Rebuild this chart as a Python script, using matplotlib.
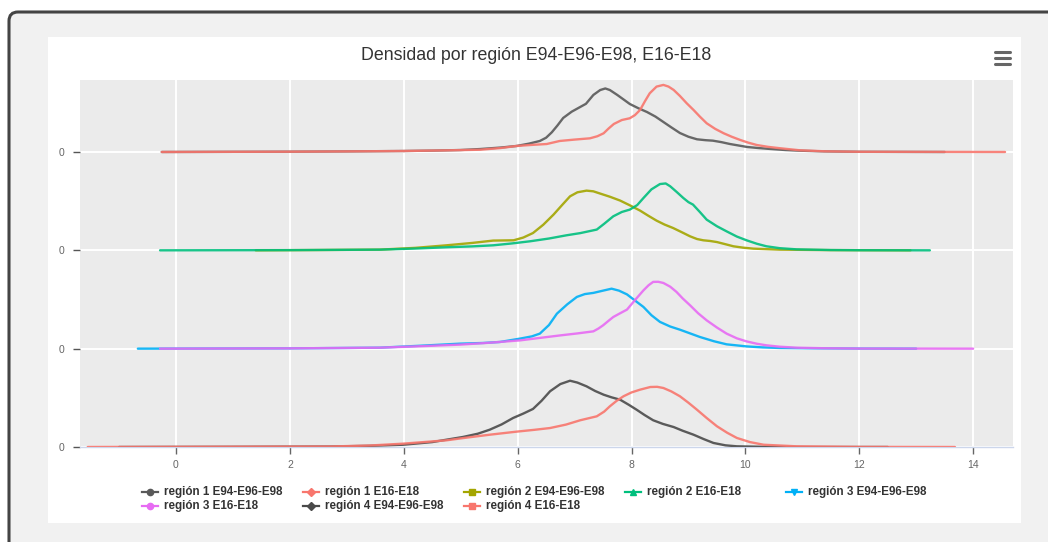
import matplotlib
matplotlib.use("Agg")
import matplotlib.pyplot as plt
from matplotlib.lines import Line2D
from matplotlib.patches import FancyBboxPatch, Rectangle
from matplotlib.transforms import IdentityTransform

plt.rcParams['font.family'] = ['Liberation Sans', 'DejaVu Sans']

title = "Densidad por región E94-E96-E98, E16-E18"

# density curves (x = value, d = density)
r1a_x = [-0.25, 2, 3, 4, 4.5, 5, 5.34, 5.7, 5.98, 6.2, 6.39, 6.5, 6.6, 6.7, 6.8, 6.95, 7.1, 7.2, 7.33, 7.45, 7.54, 7.62,
         7.75, 7.87, 7.97, 8.12, 8.27, 8.42, 8.56, 8.7, 8.85, 9.0, 9.15, 9.3, 9.43, 9.58, 9.73, 9.88, 10.03, 10.23, 10.43,
         10.7, 10.96, 11.4, 12, 13.5]
r1a_d = [0, .003, .006, .01, .014, .02, .03, .045, .061, .085, .112, .145, .2, .27, .346, .41, .458, .49, .58, .63, .646, .63,
         .58, .53, .488, .445, .407, .36, .305, .25, .193, .155, .129, .12, .115, .1, .081, .066, .051, .04, .031,
         .02, .013, .006, .002, 0]
r1b_x = [-0.25, 2, 3, 4, 4.7, 5.34, 5.7, 5.98, 6.25, 6.51, 6.74, 7.0, 7.27, 7.4, 7.51, 7.6, 7.69, 7.83, 7.97, 8.06, 8.15,
         8.24, 8.32, 8.44, 8.56, 8.65, 8.74, 8.85, 8.97, 9.09, 9.2, 9.32, 9.47, 9.62, 9.76, 9.91, 10.05, 10.2, 10.4, 10.61,
         10.96, 11.4, 12, 14.56]
r1b_d = [0, .003, .006, .01, .016, .023, .04, .061, .072, .081, .112, .126, .139, .16, .19, .24, .285, .325, .343, .375, .427,
         .52, .597, .665, .682, .665, .631, .57, .495, .427, .36, .292, .235, .19, .155, .122, .095, .071, .052, .038,
         .017, .007, .002, 0]

r2a_x = [1.4, 2.5, 3.58, 4.2, 4.75, 5.2, 5.57, 5.93, 6.1, 6.27, 6.45, 6.63, 6.78, 6.92, 7.05, 7.21, 7.33, 7.45, 7.62, 7.80,
         7.98, 8.15, 8.3, 8.44, 8.58, 8.73, 8.88, 9.03, 9.15, 9.26, 9.38, 9.50, 9.65, 9.79, 9.96, 10.14, 10.6, 11.5, 12.9]
r2a_d = [0, .003, .007, .025, .051, .075, .099, .102, .13, .176, .26, .363, .46, .549, .59, .607, .6, .577, .545, .506,
         .455, .404, .35, .302, .262, .227, .185, .142, .115, .102, .095, .084, .062, .041, .027, .017, .007, .002, 0]
r2b_x = [-0.28, 2, 3.58, 4.2, 4.75, 5.2, 5.57, 5.9, 6.22, 6.55, 6.86, 7.1, 7.39, 7.52, 7.68, 7.83, 7.97, 8.1, 8.21, 8.35,
         8.50, 8.6, 8.68, 8.8, 8.91, 9.0, 9.08, 9.2, 9.32, 9.5, 9.67, 9.85, 10.02, 10.2, 10.37, 10.6, 10.9, 11.5, 12, 13.24]
r2b_d = [0, .002, .007, .018, .031, .04, .051, .07, .092, .12, .153, .175, .211, .27, .346, .39, .414, .46, .532, .62,
         .674, .68, .651, .59, .532, .49, .465, .39, .312, .245, .193, .14, .102, .067, .041, .022, .01, .003, .001, 0]

r3a_x = [-0.67, 2, 3.58, 4.3, 4.99, 5.4, 5.69, 6.04, 6.25, 6.39, 6.55, 6.69, 6.87, 7.04, 7.18, 7.33, 7.5, 7.65, 7.78, 7.92,
         8.06, 8.21, 8.35, 8.50, 8.68, 8.85, 9.03, 9.20, 9.45, 9.67, 10.02, 10.3, 10.6, 11.3, 12, 13]
r3a_d = [0, .003, .01, .03, .051, .058, .068, .102, .125, .153, .24, .356, .45, .526, .555, .567, .59, .61, .59, .552,
         .49, .424, .34, .272, .225, .193, .155, .119, .075, .044, .023, .013, .007, .003, .001, 0]
r3b_x = [-0.28, 2, 3.58, 4.3, 4.99, 5.5, 6.04, 6.4, 6.75, 7.05, 7.33, 7.42, 7.50, 7.6, 7.68, 7.8, 7.92, 8.07, 8.21, 8.3,
         8.38, 8.47, 8.56, 8.68, 8.79, 8.9, 9.03, 9.17, 9.32, 9.5, 9.67, 9.85, 10.02, 10.2, 10.37, 10.6, 10.9, 11.4, 12, 14.0]
r3b_d = [0, .003, .01, .025, .041, .06, .084, .11, .135, .155, .176, .205, .237, .285, .322, .36, .397, .5, .593, .645,
         .679, .68, .668, .63, .577, .51, .44, .36, .288, .215, .153, .105, .074, .05, .034, .02, .01, .004, .001, 0]

r4a_x = [-1.0, 1, 2.70, 3.4, 3.99, 4.5, 5.04, 5.3, 5.51, 5.72, 5.92, 6.1, 6.27, 6.42, 6.57, 6.75, 6.92, 7.05, 7.21, 7.36,
         7.51, 7.65, 7.80, 7.95, 8.09, 8.23, 8.38, 8.55, 8.74, 8.9, 9.09, 9.27, 9.44, 9.65, 9.85, 10.3, 11, 12.5]
r4a_d = [0, .002, .005, .012, .023, .05, .102, .135, .176, .23, .295, .34, .387, .47, .567, .64, .674, .655, .617, .57,
         .532, .505, .481, .43, .379, .325, .272, .235, .203, .165, .125, .08, .041, .017, .007, .002, 0, 0]
r4b_x = [-1.55, 1, 2.70, 3.4, 3.99, 4.75, 5.1, 5.51, 5.98, 6.3, 6.57, 6.85, 7.10, 7.39, 7.52, 7.62, 7.74, 7.86, 8.0, 8.15,
         8.33, 8.45, 8.56, 8.7, 8.85, 9.0, 9.15, 9.32, 9.50, 9.68, 9.85, 10.08, 10.32, 10.9, 12, 13.68]
r4b_d = [0, .003, .005, .015, .034, .068, .095, .125, .156, .175, .193, .228, .272, .312, .36, .414, .47, .516, .555, .583,
         .61, .612, .6, .565, .516, .45, .379, .295, .211, .145, .092, .05, .023, .007, .001, 0]

names = ["región 1 E94-E96-E98", "región 1 E16-E18", "región 2 E94-E96-E98", "región 2 E16-E18",
         "región 3 E94-E96-E98", "región 3 E16-E18", "región 4 E94-E96-E98", "región 4 E16-E18"]
xs = [r1a_x, r1b_x, r2a_x, r2b_x, r3a_x, r3b_x, r4a_x, r4b_x]
ds = [r1a_d, r1b_d, r2a_d, r2b_d, r3a_d, r3b_d, r4a_d, r4b_d]
offsets = [3, 3, 2, 2, 1, 1, 0, 0]
colors = ["#595959", "#F8766D", "#A3A500", "#00BF7D", "#00B0F6", "#E76BF3", "#4a4a4a", "#F8766D"]
markers = ["o", "D", "s", "^", "v", "o", "D", "s"]

W, H = 1048, 542
fig = plt.figure(figsize=(W / 100, H / 100), dpi=100, facecolor="white")

def fx(p):
    return p / W

def fy(p):
    return 1 - p / H

# card frame and white panel, kept behind the axes
card = FancyBboxPatch((9, -40), 1100, H - 12 + 40, boxstyle="round,pad=0,rounding_size=9",
                      transform=IdentityTransform(), facecolor="#f1f1f1", edgecolor="#444444",
                      lw=2.2, zorder=-3)
fig.patches.append(card)
fig.patches.append(Rectangle((fx(48), fy(523)), fx(1021 - 48), (523 - 37) / H,
                             transform=fig.transFigure, facecolor="white", edgecolor="none",
                             zorder=-2))

ax = fig.add_axes([fx(80), fy(447), fx(1013 - 80), (447 - 80) / H])
ax.set_zorder(1)
ax.set_facecolor("#EBEBEB")
for s in ["top", "right", "left"]:
    ax.spines[s].set_visible(False)
ax.spines["bottom"].set_color("#ccd6eb")
ax.spines["bottom"].set_linewidth(1)

for x, d, off, c in zip(xs, ds, offsets, colors):
    ax.plot(x, [v + off for v in d], color=c, lw=1.7, alpha=0.9, solid_joinstyle="round",
            solid_capstyle="round", zorder=3)

ax.set_xlim(-1.686, 14.70)
ax.set_ylim(0, 3.732)
ax.set_xticks(range(0, 15, 2))
ax.set_yticks([0, 1, 2, 3])
ax.set_yticklabels(["0"] * 4)
ax.grid(True, color="white", lw=1.4, zorder=1)
ax.set_axisbelow(True)
ax.tick_params(axis="x", colors="#666666", labelsize=7.5, length=5, width=1, pad=4)
ax.tick_params(axis="y", colors="#555555", labelcolor="#666666", labelsize=7.5, length=5, width=1, pad=6)

fig.text(fx(536), fy(55), title, ha="center", va="center", fontsize=12.8, color="#333333")

# hamburger menu icon
for yy in [52, 58, 64]:
    fig.add_artist(Line2D([fx(995), fx(1010)], [fy(yy), fy(yy)], color="#666666", lw=2.2,
                          solid_capstyle="round"))

# legend, filled row by row like the original
for i, (n, c, m) in enumerate(zip(names, colors, markers)):
    col, row = i % 5, i // 5
    x0 = 142 + col * 161
    y0 = 492 + row * 14
    fig.add_artist(Line2D([fx(x0), fx(x0 + 16)], [fy(y0), fy(y0)], color=c, lw=1.6))
    fig.add_artist(Line2D([fx(x0 + 8)], [fy(y0)], color=c, marker=m, markersize=4.5, lw=0))
    fig.text(fx(x0 + 22), fy(y0), n, ha="left", va="center", fontsize=8.4, fontweight="bold",
             color="#333333")

fig.savefig("out.png", dpi=100, facecolor=fig.get_facecolor())
